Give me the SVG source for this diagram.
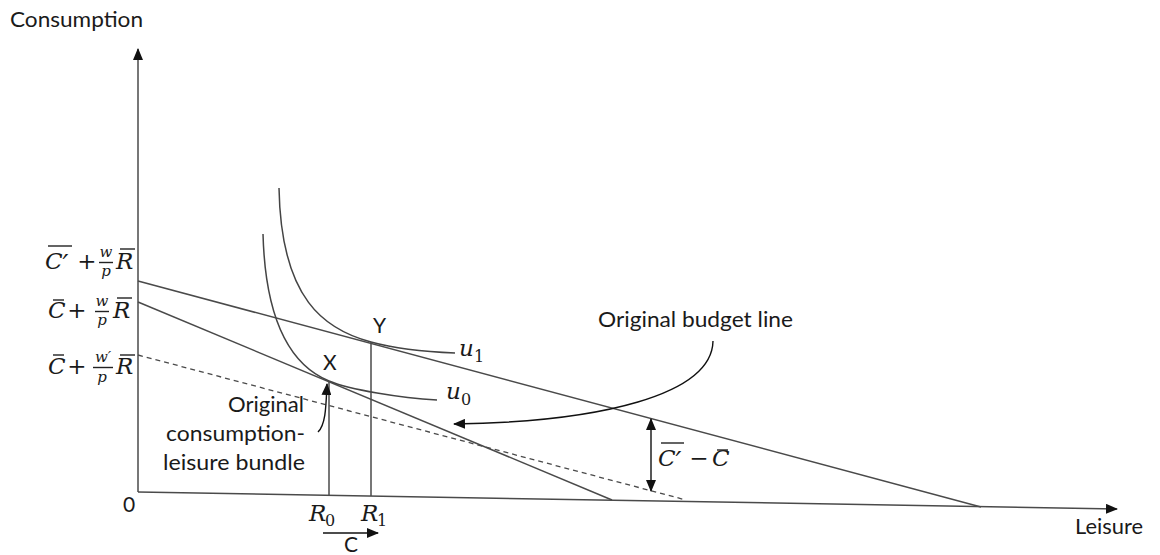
<svg xmlns="http://www.w3.org/2000/svg" width="1160" height="555" viewBox="0 0 1160 555">
<style>
.ln{fill:none;stroke:#4a4a4a;stroke-width:1.5}
.dash{fill:none;stroke:#4a4a4a;stroke-width:1.3;stroke-dasharray:5 4}
.cv{fill:none;stroke:#444;stroke-width:1.5}
.ar{fill:none;stroke:#111;stroke-width:1.4}
.bar{stroke:#222;stroke-width:1.4}
.t{font-family:Lato,"Open Sans","Liberation Sans",sans-serif;font-size:21px;fill:#1a1a1a}
.m{font-family:"DejaVu Serif","Liberation Serif",serif;font-style:italic;font-size:23px;fill:#1a1a1a}
.mu{font-family:"DejaVu Serif","Liberation Serif",serif;font-size:23px;fill:#1a1a1a}
.ms{font-family:"DejaVu Serif","Liberation Serif",serif;font-style:italic;font-size:15px;fill:#1a1a1a}
.sub{font-family:"DejaVu Serif","Liberation Serif",serif;font-size:16px;fill:#1a1a1a}
.pr{font-size:26px}
</style>
<defs>
<marker id="ah" markerUnits="userSpaceOnUse" markerWidth="12" markerHeight="10" refX="11" refY="5" orient="auto-start-reverse">
<path d="M0,0 L12,5 L0,10 Z" fill="#111"/>
</marker>
</defs>

<g id="axes">
<line class="ln" x1="138" y1="492" x2="138" y2="49" marker-end="url(#ah)"/>
<line class="ln" x1="138" y1="492" x2="1117" y2="509" marker-end="url(#ah)"/>
<text class="t" x="10" y="27" textLength="133" lengthAdjust="spacingAndGlyphs">Consumption</text>
<text class="t" x="1075" y="534" textLength="68" lengthAdjust="spacingAndGlyphs">Leisure</text>
<text class="t" x="123" y="512" font-size="19">0</text>
</g>

<g id="budget-line-new">
<line class="ln" x1="138" y1="281" x2="981" y2="507"/>
</g>
<g id="budget-line-original">
<line class="ln" x1="138" y1="302" x2="612" y2="500"/>
</g>
<g id="budget-line-dashed">
<line class="dash" x1="138" y1="355" x2="686" y2="500"/>
</g>

<g id="curve-u1">
<path class="cv" d="M279,188 C281,300 325,329.7 371,342 C400,350 430,352 455,353"/>
<text class="m" x="459" y="356">u</text><text class="sub" x="474" y="362">1</text>
</g>
<g id="curve-u0">
<path class="cv" d="M263,234 C266,345 306,371.5 329,381 C350,389.7 400,398 437,400"/>
<text class="m" x="446" y="399">u</text><text class="sub" x="461" y="405">0</text>
</g>

<g id="point-X">
<line class="ln" x1="329" y1="381" x2="329" y2="495"/>
<text class="t" x="323" y="370">X</text>
<text class="m" x="309" y="521">R</text><text class="sub" x="325" y="526">0</text>
</g>
<g id="point-Y">
<line class="ln" x1="371" y1="342" x2="371" y2="496"/>
<text class="t" x="373" y="333">Y</text>
<text class="m" x="361" y="521">R</text><text class="sub" x="377" y="526">1</text>
</g>

<g id="label-top">
<text class="m" x="45" y="269">C<tspan class="pr" dy="4">′</tspan></text>
<line class="bar" x1="48" y1="246" x2="72" y2="246"/>
<text class="mu" x="87" y="269" text-anchor="middle">+</text>
<text class="ms" x="106" y="257" text-anchor="middle">w</text>
<line class="bar" x1="99" y1="262.5" x2="113" y2="262.5"/>
<text class="ms" x="106" y="276" text-anchor="middle">p</text>
<text class="m" x="116" y="269">R</text>
<line class="bar" x1="120" y1="249" x2="135" y2="249"/>
</g>
<g id="label-mid">
<text class="m" x="48" y="318">C</text>
<line class="bar" x1="53" y1="300" x2="64" y2="300"/>
<text class="mu" x="77" y="318" text-anchor="middle">+</text>
<text class="ms" x="102" y="306" text-anchor="middle">w</text>
<line class="bar" x1="95" y1="311.5" x2="109" y2="311.5"/>
<text class="ms" x="102" y="325" text-anchor="middle">p</text>
<text class="m" x="113" y="318">R</text>
<line class="bar" x1="117" y1="298" x2="132" y2="298"/>
</g>
<g id="label-low">
<text class="m" x="48" y="374">C</text>
<line class="bar" x1="53" y1="355" x2="64" y2="355"/>
<text class="mu" x="77" y="374" text-anchor="middle">+</text>
<text class="ms" x="103" y="362" text-anchor="middle">w′</text>
<line class="bar" x1="93" y1="367.5" x2="113" y2="367.5"/>
<text class="ms" x="102" y="382" text-anchor="middle">p</text>
<text class="m" x="116" y="374">R</text>
<line class="bar" x1="120" y1="355" x2="135" y2="355"/>
</g>

<g id="label-budget">
<text class="t" x="598" y="327" textLength="195" lengthAdjust="spacingAndGlyphs">Original budget line</text>
</g>
<g id="label-bundle">
<text class="t" x="304" y="412" text-anchor="end" textLength="76" lengthAdjust="spacingAndGlyphs">Original</text>
<text class="t" x="305" y="441" text-anchor="end" textLength="139" lengthAdjust="spacingAndGlyphs">consumption-</text>
<text class="t" x="305" y="470" text-anchor="end" textLength="142" lengthAdjust="spacingAndGlyphs">leisure bundle</text>
</g>
<g id="label-diff">
<text class="m" x="658" y="466">C<tspan class="pr" dy="4">′</tspan></text>
<line class="bar" x1="661" y1="443" x2="684" y2="443"/>
<text class="mu" x="699" y="466" text-anchor="middle">−</text>
<text class="m" x="712" y="466">C</text>
<line class="bar" x1="717" y1="450" x2="728" y2="450"/>
</g>
<g id="label-C">
<text class="t" x="344" y="552">C</text>
</g>

<g id="connectors">
<path class="ar" d="M713,341 C712,395 600,422 454,424" marker-end="url(#ah)"/>
<path class="ar" d="M318,432 C326,424 326,405 327,384" marker-end="url(#ah)"/>
<line class="ar" x1="651" y1="419" x2="651" y2="491" marker-start="url(#ah)" marker-end="url(#ah)"/>
<line class="ar" x1="323" y1="533" x2="378" y2="533" marker-end="url(#ah)"/>
</g>
</svg>
